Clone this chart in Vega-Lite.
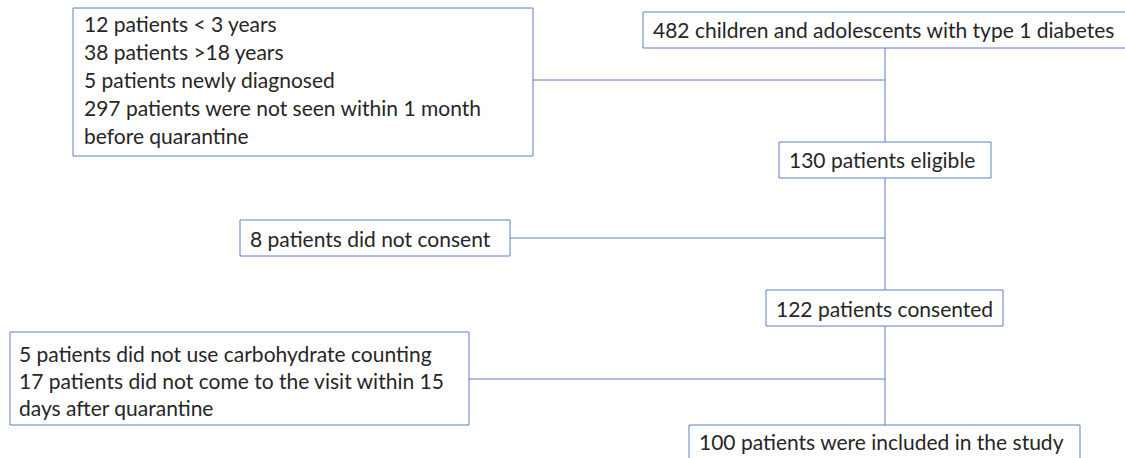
{
  "$schema": "https://vega.github.io/schema/vega-lite/v6.json",
  "width": 1125,
  "height": 458,
  "padding": 0,
  "autosize": {"type": "none"},
  "background": "white",
  "config": {"view": {"stroke": null}},
  "datasets": {
    "boxes": [
      {"id": "A", "x1": 73, "x2": 533, "y1": 8, "y2": 156},
      {"id": "B", "x1": 643, "x2": 1130, "y1": 12, "y2": 48},
      {"id": "C", "x1": 779, "x2": 991, "y1": 142, "y2": 178},
      {"id": "D", "x1": 240, "x2": 510, "y1": 220, "y2": 256},
      {"id": "E", "x1": 766, "x2": 1003, "y1": 290, "y2": 326},
      {"id": "F", "x1": 10, "x2": 469, "y1": 332, "y2": 425},
      {"id": "G", "x1": 689, "x2": 1080, "y1": 425, "y2": 470}
    ],
    "links": [
      {"x1": 885, "x2": 885, "y1": 48, "y2": 142},
      {"x1": 533, "x2": 885, "y1": 80, "y2": 80},
      {"x1": 885, "x2": 885, "y1": 178, "y2": 290},
      {"x1": 510, "x2": 885, "y1": 238, "y2": 238},
      {"x1": 885, "x2": 885, "y1": 326, "y2": 425},
      {"x1": 469, "x2": 885, "y1": 379, "y2": 379}
    ],
    "labels": [
      {"x": 84, "y": 24, "label": "12 patients < 3 years"},
      {"x": 84, "y": 52, "label": "38 patients >18 years"},
      {"x": 84, "y": 80, "label": "5 patients newly diagnosed"},
      {"x": 84, "y": 108, "label": "297 patients were not seen within 1 month"},
      {"x": 84, "y": 136, "label": "before quarantine"},
      {"x": 653, "y": 30, "label": "482 children and adolescents with type 1 diabetes"},
      {"x": 789, "y": 160, "label": "130 patients eligible"},
      {"x": 250, "y": 239, "label": "8 patients did not consent"},
      {"x": 776, "y": 309, "label": "122 patients consented"},
      {"x": 19, "y": 354, "label": "5 patients did not use carbohydrate counting"},
      {"x": 19, "y": 381, "label": "17 patients did not come to the visit within 15"},
      {"x": 19, "y": 408, "label": "days after quarantine"},
      {"x": 699, "y": 442, "label": "100 patients were included in the study"}
    ]
  },
  "layer": [
    {
      "data": {"name": "links"},
      "mark": {"type": "rule", "color": "#5B7EC6", "strokeWidth": 1},
      "encoding": {
        "x": {"field": "x1", "type": "quantitative", "scale": {"domain": [0, 1125], "nice": false, "zero": false}, "axis": null},
        "x2": {"field": "x2"},
        "y": {"field": "y1", "type": "quantitative", "scale": {"domain": [458, 0], "nice": false, "zero": false}, "axis": null},
        "y2": {"field": "y2"}
      }
    },
    {
      "data": {"name": "boxes"},
      "mark": {"type": "rect", "fill": "white", "stroke": "#5B7EC6", "strokeWidth": 1},
      "encoding": {
        "x": {"field": "x1", "type": "quantitative"},
        "x2": {"field": "x2"},
        "y": {"field": "y1", "type": "quantitative"},
        "y2": {"field": "y2"}
      }
    },
    {
      "data": {"name": "labels"},
      "mark": {"type": "text", "align": "left", "baseline": "middle", "dy": 2, "font": "Lato", "fontSize": 21, "color": "#262626"},
      "encoding": {
        "x": {"field": "x", "type": "quantitative"},
        "y": {"field": "y", "type": "quantitative"},
        "text": {"field": "label"}
      }
    }
  ]
}
